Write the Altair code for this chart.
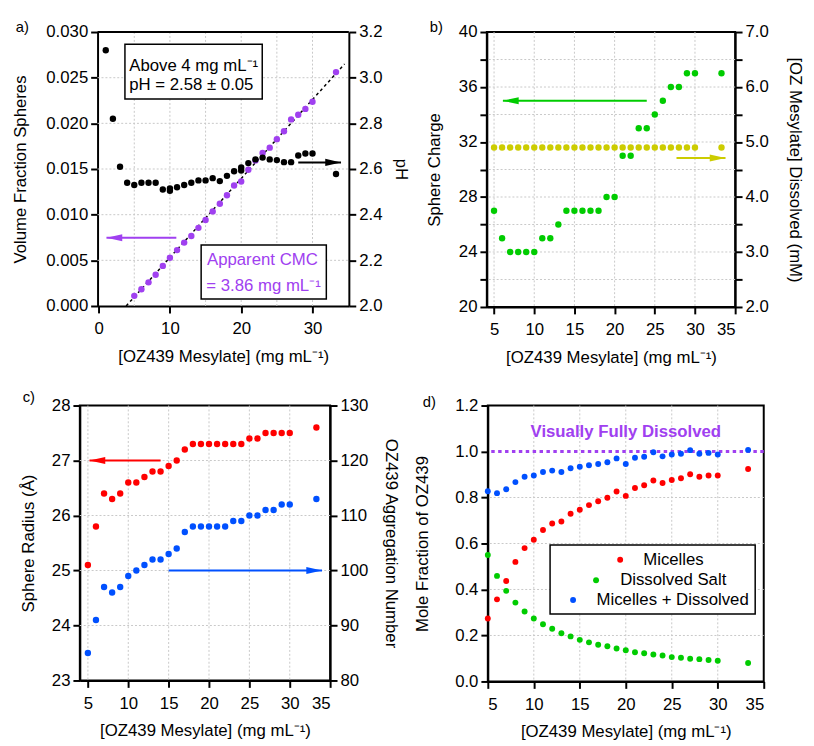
import altair as alt
import pandas as pd

FONT = "Liberation Sans"
XTITLE = "[OZ439 Mesylate] (mg mL⁻¹)"
RED = "#ff0000"
GREEN = "#00cc00"
BLUE = "#0050ff"
PURPLE = "#a040f0"
YELLOW = "#cccc00"
GRIDC = "#c8c8c8"
LEFT_HEAD = "M0,0L2,-0.45L2,0.45Z"
RIGHT_HEAD = "M0,0L-2,-0.45L-2,0.45Z"

# ---------------- data ----------------
conc = [5, 6, 7, 8, 9, 10, 11, 12, 13, 14, 15, 16, 17, 18, 19, 20, 21, 22, 23, 24,
        25, 26, 27, 28, 29, 30, 33.3]

# panel a
a_ph_conc = [1, 2, 3, 4, 5, 6, 7, 8, 9, 10, 10, 11, 12, 13, 14, 15, 16, 17, 18, 19, 20, 20,
             21, 22, 23, 24, 25, 26, 27, 28, 29, 30, 33.3]
a_ph = [3.12, 2.82, 2.61, 2.54, 2.53, 2.54, 2.54, 2.54, 2.51, 2.515, 2.505, 2.52, 2.53, 2.54,
        2.55, 2.55, 2.56, 2.547, 2.57, 2.59, 2.607, 2.593, 2.626, 2.642, 2.65, 2.642, 2.639,
        2.63, 2.63, 2.659, 2.668, 2.668, 2.578]
a_vf = [0.00111, 0.00183, 0.00259, 0.00342, 0.00439, 0.00529, 0.00612, 0.00694, 0.00766,
        0.00856, 0.00942, 0.01036, 0.01119, 0.01212, 0.0132, 0.01363, 0.01492, 0.01594,
        0.01676, 0.01734, 0.01827, 0.01913, 0.02043, 0.02094, 0.02158, 0.02237, 0.02561]
a_fit_conc = [3.86, 34.5]
a_fit_vf = [0.0, 0.0265]
a_ticks_x = [0, 10, 20, 30]
a_grid_x = [5, 10, 15, 20, 25, 30]
a_ticks_vf = [0, 0.005, 0.010, 0.015, 0.020, 0.025, 0.030]
a_grid_vf = [0.005, 0.010, 0.015, 0.020, 0.025]
a_ticks_ph = [2.0, 2.2, 2.4, 2.6, 2.8, 3.0, 3.2]
a_box1 = dict(x=[3.69], x2=[22.95], y=[0.02867], y2=[0.02266])
a_box1_text = dict(x=[4.29, 4.29], y=[0.02626, 0.02417],
                   t=["Above 4 mg mL⁻¹", "pH = 2.58 ± 0.05"])
a_box2 = dict(x=[14.38], x2=[31.94], y=[0.00669], y2=[0.00076])
a_box2_text = dict(x=[15.2, 15.1], y=[0.00507, 0.00216],
                   t=["Apparent CMC", "= 3.86 mg mL⁻¹"])
a_arrow_left = dict(x=[10.9], x2=[1.1], y=[0.00748])
a_arrow_right = dict(x=[28.0], x2=[34.0], y=[2.629])

# panel b
b_charge = [27, 25, 24, 24, 24, 24, 25, 25, 26, 27, 27, 27, 27, 27, 28, 28, 31, 31, 33, 33,
            34, 35, 36, 36, 37, 37, 37]
b_dissolved = [4.9, 4.9, 4.9, 4.9, 4.9, 4.9, 4.9, 4.9, 4.9, 4.9, 4.9, 4.9, 4.9, 4.9, 4.9,
               4.9, 4.9, 4.9, 4.9, 4.9, 4.9, 4.9, 4.9, 4.9, 4.9, 4.9, 4.9]
b_ticks_x = [5, 10, 15, 20, 25, 30, 35]
b_grid_x = [5, 10, 15, 20, 25, 30]
b_ticks_charge = [20, 22, 24, 26, 28, 30, 32, 34, 36, 38, 40]
b_grid_charge = [22, 24, 26, 28, 30, 32, 34, 36, 38]
b_ticks_diss = [2.0, 2.5, 3.0, 3.5, 4.0, 4.5, 5.0, 5.5, 6.0, 6.5, 7.0]
b_arrow_left = dict(x=[24.0], x2=[6.1], y=[35.0])
b_arrow_right = dict(x=[27.7], x2=[33.8], y=[4.71])

# panel c
c_radius = [25.1, 25.8, 26.4, 26.3, 26.4, 26.6, 26.6, 26.7, 26.8, 26.8, 26.9, 27.0, 27.2,
            27.3, 27.3, 27.3, 27.3, 27.3, 27.3, 27.3, 27.4, 27.4, 27.5, 27.5, 27.5, 27.5, 27.6]
c_agg = [85, 91, 97, 96, 97, 99, 100, 101, 102, 102, 103, 104, 107, 108, 108, 108, 108, 108,
         109, 109, 110, 110, 111, 111, 112, 112, 113]
c_ticks_r = [23, 24, 25, 26, 27, 28]
c_grid_r = [24, 25, 26, 27]
c_ticks_n = [80, 90, 100, 110, 120, 130]
c_arrow_left = dict(x=[14.0], x2=[5.2], y=[27.0])
c_arrow_right = dict(x=[15.0], x2=[34.0], y=[100.0])

# panel d
d_mic = [0.274, 0.357, 0.437, 0.52, 0.58, 0.616, 0.659, 0.687, 0.696, 0.729, 0.747, 0.767,
         0.784, 0.799, 0.826, 0.807, 0.841, 0.853, 0.874, 0.863, 0.876, 0.884, 0.901, 0.89,
         0.896, 0.896, 0.924]
d_salt = [0.55, 0.459, 0.394, 0.343, 0.304, 0.274, 0.249, 0.229, 0.21, 0.196, 0.181, 0.17,
          0.16, 0.153, 0.143, 0.136, 0.127, 0.123, 0.117, 0.113, 0.106, 0.103, 0.099, 0.097,
          0.093, 0.09, 0.08]
d_tot = [0.827, 0.819, 0.836, 0.867, 0.89, 0.896, 0.911, 0.917, 0.911, 0.927, 0.934, 0.94,
         0.946, 0.953, 0.97, 0.946, 0.973, 0.977, 0.997, 0.979, 0.987, 0.99, 1.006, 0.99,
         0.994, 0.987, 1.007]
d_ticks_y = [0.0, 0.2, 0.4, 0.6, 0.8, 1.0, 1.2]
d_grid_y = [0.2, 0.4, 0.6, 0.8]
d_grid_x = [10, 15, 20, 25, 30]
d_full = [1.0]
d_full_text = dict(x=[20.0], y=[1.083], t=["Visually Fully Dissolved"])
d_legend_box = dict(x=[11.77], x2=[34.07], y=[0.593], y2=[0.293])
d_legend_sym = dict(x=[19.39, 16.77, 14.27], y=[0.529, 0.44, 0.354], c=[RED, GREEN, BLUE])
d_legend_txt = dict(x=[21.9, 19.39, 16.82], y=[0.529, 0.44, 0.354],
                    t=["Micelles", "Dissolved Salt", "Micelles + Dissolved"])

TICKS = dict(ticks=True, tickSize=7, tickWidth=2, tickColor="black", domain=True,
             domainColor="black", domainWidth=2, grid=False)

# panel a sits 18 px to the right of panel c in the original layout; the two share a
# column origin, so panel a's plot rectangle is inset inside a wider view.
A_INSET = 18
A_W = 255


# ---------------- helpers ----------------
def sc(dom, rng=None):
    if rng is None:
        return alt.Scale(domain=dom, nice=False, zero=False)
    return alt.Scale(domain=dom, range=rng, nice=False, zero=False)


def xenc(dom, values, rng=None):
    return alt.X("x:Q", scale=sc(dom, rng),
                 axis=alt.Axis(values=values, title=XTITLE, labelPadding=8, titlePadding=12,
                               **TICKS))


def yenc(dom, values, title, fmt, pad, orient="left", label_expr=None, offset=0):
    kw = dict(values=values, title=title, format=fmt, titlePadding=pad, orient=orient,
              labelPadding=3, **TICKS)
    if offset:
        kw["offset"] = offset
    if label_expr:
        kw["labelExpr"] = label_expr
    return alt.Y("y:Q", scale=sc(dom), axis=alt.Axis(**kw))


def points(xs, ys, xe, ye, color, size):
    df = pd.DataFrame({"x": xs, "y": ys})
    return alt.Chart(df).mark_circle(size=size, color=color, opacity=1).encode(x=xe, y=ye)


def vgrid(xs, xe):
    df = pd.DataFrame({"x": xs})
    return alt.Chart(df).mark_rule(color=GRIDC, strokeDash=[2, 2], strokeWidth=1).encode(x=xe)


def hgrid(ys, ye, xe=None, xdom=None):
    if xe is None:
        df = pd.DataFrame({"y": ys})
        return alt.Chart(df).mark_rule(color=GRIDC, strokeDash=[2, 2], strokeWidth=1).encode(
            y=ye)
    df = pd.DataFrame({"y": ys, "x": [xdom[0]] * len(ys), "x2": [xdom[1]] * len(ys)})
    return alt.Chart(df).mark_rule(color=GRIDC, strokeDash=[2, 2], strokeWidth=1).encode(
        y=ye, x=xe, x2="x2:Q")


def arrow(spec, xe, ye, color):
    shaft_df = pd.DataFrame(spec)
    shaft = alt.Chart(shaft_df).mark_rule(color=color, strokeWidth=2).encode(
        x=xe, x2="x2:Q", y=ye)
    head_df = pd.DataFrame({"x": spec["x2"], "y": spec["y"]})
    head_shape = LEFT_HEAD if spec["x2"][0] < spec["x"][0] else RIGHT_HEAD
    head = alt.Chart(head_df).mark_point(shape=head_shape, filled=True, color=color, size=256,
                                         opacity=1, strokeWidth=0).encode(x=xe, y=ye)
    return [shaft, head]


def box(spec, xe, ye):
    df = pd.DataFrame(spec)
    return alt.Chart(df).mark_rect(fill="white", stroke="black", strokeWidth=1.5).encode(
        x=xe, x2="x2:Q", y=ye, y2="y2:Q")


def texts(spec, xe, ye, color="black", align="left", bold=False):
    df = pd.DataFrame(spec)
    return alt.Chart(df).mark_text(align=align, baseline="middle", font=FONT, fontSize=17,
                                   color=color, fontWeight="bold" if bold else "normal").encode(
        x=xe, y=ye, text="t:N")


def plabel(txt, dx, dy):
    df = pd.DataFrame({"t": [txt]})
    return alt.Chart(df).mark_text(align="left", baseline="top", font=FONT, fontSize=15,
                                   color="black").encode(
        x=alt.value(dx), y=alt.value(dy), text="t:N")


def spacer(l, t, r, b):
    # invisible layout helpers pinning the panel's outer extent
    df = pd.DataFrame({"s": [0]})
    left = alt.Chart(df).mark_rule(opacity=0, strokeWidth=1).encode(
        x=alt.value(l), y=alt.value(t), y2=alt.value(b))
    right = alt.Chart(df).mark_rule(opacity=0, strokeWidth=1).encode(
        x=alt.value(r), y=alt.value(t), y2=alt.value(b))
    return [left, right]


# ---------------- panel a ----------------
A_XDOM = [-0.15, 35.1]
A_VFDOM = [0, 0.03]
ax_x = xenc(A_XDOM, a_ticks_x, rng=[A_INSET, A_INSET + A_W])
ax_vf = yenc(A_VFDOM, a_ticks_vf, "Volume Fraction Spheres", ".3f", 17, offset=-A_INSET)
ax_ph = yenc([2.0, 3.2], a_ticks_ph, "pH", ".1f", 10, orient="right")
a_left = alt.layer(
    *spacer(-72, -15, 336, 353),
    vgrid(a_grid_x, ax_x),
    hgrid(a_grid_vf, ax_vf, ax_x, A_XDOM),
    alt.Chart(pd.DataFrame({"x": [A_XDOM[0]], "x2": [A_XDOM[1]], "y": [A_VFDOM[1]]})).mark_rule(
        color="black", strokeWidth=2).encode(x=ax_x, x2="x2:Q", y=ax_vf),
    box(a_box1, ax_x, ax_vf),
    box(a_box2, ax_x, ax_vf),
    alt.Chart(pd.DataFrame({"x": a_fit_conc, "y": a_fit_vf})).mark_line(
        color="black", strokeDash=[3, 3], strokeWidth=1.5).encode(x=ax_x, y=ax_vf),
    points(conc, a_vf, ax_x, ax_vf, PURPLE, 42),
    *arrow(a_arrow_left, ax_x, ax_vf, PURPLE),
    texts(a_box1_text, ax_x, ax_vf),
    texts(a_box2_text, ax_x, ax_vf, color=PURPLE),
    plabel("a)", -83 + A_INSET, -12),
)
a_right = alt.layer(
    points(a_ph_conc, a_ph, ax_x, ax_ph, "black", 42),
    *arrow(a_arrow_right, ax_x, ax_ph, "black"),
)
panel_a = alt.layer(a_left, a_right).resolve_scale(y="independent").properties(
    width=A_W + A_INSET, height=278, view=alt.ViewBackground(stroke="transparent"))

# ---------------- panel b ----------------
bx_x = xenc([4.1, 35], b_ticks_x)
bx_q = yenc([20, 40], b_ticks_charge, "Sphere Charge", "d", 15,
            label_expr="datum.value % 4 == 0 ? datum.label : ''")
bx_d = yenc([2.0, 7.0], b_ticks_diss, "[OZ Mesylate] Dissolved (mM)", ".1f", 18,
            orient="right", label_expr="datum.value % 1 == 0 ? datum.label : ''")
b_left = alt.layer(
    *spacer(-75, -15, 321, 353),
    vgrid(b_grid_x, bx_x),
    hgrid(b_grid_charge, bx_q),
    points(conc, b_charge, bx_x, bx_q, GREEN, 42),
    *arrow(b_arrow_left, bx_x, bx_q, GREEN),
    plabel("b)", -58, -12),
)
b_right = alt.layer(
    points(conc, b_dissolved, bx_x, bx_d, YELLOW, 42),
    *arrow(b_arrow_right, bx_x, bx_d, YELLOW),
)
panel_b = alt.layer(b_left, b_right).resolve_scale(y="independent").properties(
    width=252, height=279)

# ---------------- panel c ----------------
cx_x = xenc([4.0, 35], b_ticks_x)
cx_r = yenc([23, 28], c_ticks_r, "Sphere Radius (Å)", "d", 14)
cx_n = yenc([80, 130], c_ticks_n, "OZ439 Aggregation Number", "d", 14, orient="right")
c_left = alt.layer(
    *spacer(-72, -18, 328, 340),
    vgrid(b_grid_x, cx_x),
    hgrid(c_grid_r, cx_r),
    points(conc, c_radius, cx_x, cx_r, RED, 42),
    *arrow(c_arrow_left, cx_x, cx_r, RED),
    plabel("c)", -58, -16),
)
c_right = alt.layer(
    points(conc, c_agg, cx_x, cx_n, BLUE, 42),
    *arrow(c_arrow_right, cx_x, cx_n, BLUE),
)
panel_c = alt.layer(c_left, c_right).resolve_scale(y="independent").properties(
    width=254, height=279)

# ---------------- panel d ----------------
dx_x = xenc([5, 35], b_ticks_x)
dx_y = yenc([0, 1.2], d_ticks_y, "Mole Fraction of OZ439", ".1f", 24)
panel_d = alt.layer(
    *spacer(-74, -18, 330, 340),
    vgrid(d_grid_x, dx_x),
    hgrid(d_grid_y, dx_y),
    alt.Chart(pd.DataFrame({"y": d_full})).mark_rule(
        color=PURPLE, strokeWidth=3, strokeDash=[3.5, 3.5]).encode(y=dx_y),
    texts(d_full_text, dx_x, dx_y, color=PURPLE, align="center", bold=True),
    points(conc, d_mic, dx_x, dx_y, RED, 36),
    points(conc, d_salt, dx_x, dx_y, GREEN, 36),
    points(conc, d_tot, dx_x, dx_y, BLUE, 36),
    box(d_legend_box, dx_x, dx_y),
    alt.Chart(pd.DataFrame(d_legend_sym)).mark_circle(size=36, opacity=1).encode(
        x=dx_x, y=dx_y, color=alt.Color("c:N", scale=None)),
    texts(d_legend_txt, dx_x, dx_y),
    plabel("d)", -66, -11),
).properties(width=280, height=280)

chart = alt.concat(
    panel_a, panel_b, panel_c, panel_d,
    columns=2, align="none", bounds="full", center=False,
    spacing={"row": 6, "column": 0},
).properties(
    padding={"left": 8, "top": 11, "right": 0, "bottom": 0},
    background="white",
).configure_axis(
    labelFont=FONT, labelFontSize=17, labelColor="black",
    titleFont=FONT, titleFontSize=17, titleFontWeight="normal", titleColor="black",
    domainColor="black", domainWidth=2, tickColor="black", tickWidth=2, tickSize=7,
).configure_view(stroke="black", strokeWidth=2)

chart.save("out.html", embed_options={"renderer": "svg", "actions": False})
